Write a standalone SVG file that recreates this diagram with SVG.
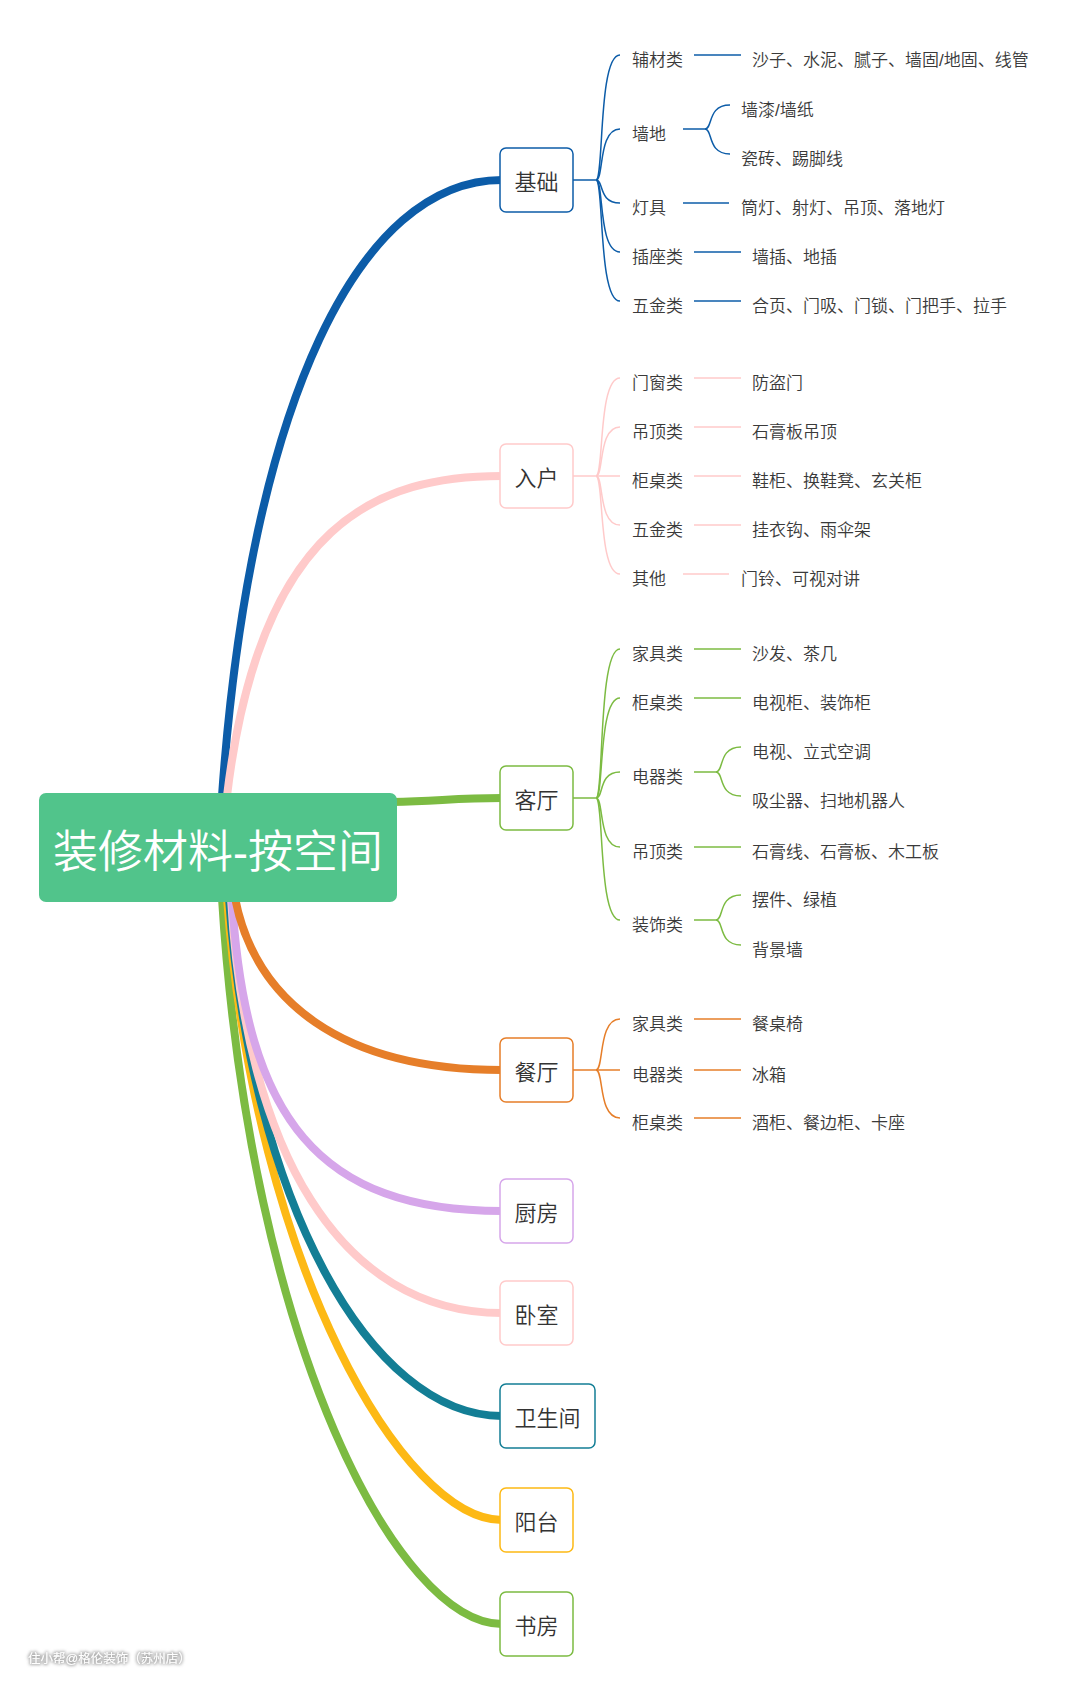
<svg xmlns="http://www.w3.org/2000/svg" width="1080" height="1696" viewBox="0 0 1080 1696">
<defs>
<style>
text{font-family:"Liberation Sans","Noto Sans CJK SC",sans-serif;}
.root{font-size:45px;fill:#ffffff;text-anchor:middle;font-weight:350;}
.l1{font-size:22px;fill:#333333;text-anchor:middle;font-weight:350;}
.t{font-size:17px;fill:#3a3a3a;font-weight:350;}
.box{fill:#ffffff;stroke-width:1.5;}
.thick{fill:none;stroke-width:8;stroke-linecap:butt;}
.thin{fill:none;stroke-width:1.5;}
.blue{stroke:#0c5ca8;}
.pink{stroke:#ffcaca;}
.green{stroke:#7cbb42;}
.orange{stroke:#e67e29;}
.lav{stroke:#d6a6ea;}
.teal{stroke:#137e95;}
.yellow{stroke:#fdb915;}
.wm{font-size:12.5px;fill:#ffffff;}
</style>
<filter id="wmshadow" x="-10%" y="-60%" width="120%" height="220%">
<feMorphology in="SourceAlpha" operator="dilate" radius="1" result="d"/>
<feGaussianBlur in="d" stdDeviation="1.5" result="b"/>
<feFlood flood-color="#8a8a8a" flood-opacity="0.7"/>
<feComposite in2="b" operator="in" result="s"/>
<feMerge><feMergeNode in="s"/><feMergeNode in="SourceGraphic"/></feMerge>
</filter>
</defs>
<rect x="0" y="0" width="1080" height="1696" fill="#ffffff"/>

<g id="connectors">
<!-- main branches -->
<path class="thick blue" d="M222,796 C250,400 360,180 502,180"/>
<path class="thick pink" d="M227,796 C260,520 380,476 502,476"/>
<path class="thick green" d="M392,802 C440,801 455,798 502,798"/>
<path class="thick green" d="M222,898 C250,1350 400,1624 502,1624"/>
<path class="thick yellow" d="M227,898 C255,1270 405,1520 502,1520"/>
<path class="thick teal" d="M229,898 C250,1200 370,1416 502,1416"/>
<path class="thick pink" d="M231,898 C245,1150 340,1313 502,1313"/>
<path class="thick lav" d="M232,898 C245,1120 320,1211 502,1211"/>
<path class="thick orange" d="M235,898 C255,1000 340,1070 502,1070"/>

<!-- 基础 -->
<g class="thin blue">
<path d="M573,180 H596 C604,180 598,55 620,55"/>
<path d="M596,180 C604,180 598,129 620,129"/>
<path d="M596,180 C604,180 598,203 620,203"/>
<path d="M596,180 C604,180 598,252 620,252"/>
<path d="M596,180 C604,180 598,301 620,301"/>
<path d="M694,55 H741"/>
<path d="M683,129 H705 C713,129 707,105 730,105"/>
<path d="M705,129 C713,129 707,154 730,154"/>
<path d="M683,203 H729"/>
<path d="M694,252 H741"/>
<path d="M694,301 H741"/>
</g>
<!-- 入户 -->
<g class="thin pink">
<path d="M573,476 H596 C604,476 598,378 620,378"/>
<path d="M596,476 C604,476 598,427 620,427"/>
<path d="M596,476 H620"/>
<path d="M596,476 C604,476 598,525 620,525"/>
<path d="M596,476 C604,476 598,574 620,574"/>
<path d="M694,378 H741"/>
<path d="M694,427 H741"/>
<path d="M694,476 H741"/>
<path d="M694,525 H741"/>
<path d="M683,574 H729"/>
</g>
<!-- 客厅 -->
<g class="thin green">
<path d="M573,798 H596 C604,798 598,649 620,649"/>
<path d="M596,798 C604,798 598,698 620,698"/>
<path d="M596,798 C604,798 598,772 620,772"/>
<path d="M596,798 C604,798 598,847 620,847"/>
<path d="M596,798 C604,798 598,920 620,920"/>
<path d="M694,649 H741"/>
<path d="M694,698 H741"/>
<path d="M694,772 H716 C724,772 718,747 741,747"/>
<path d="M716,772 C724,772 718,796 741,796"/>
<path d="M694,847 H741"/>
<path d="M694,920 H716 C724,920 718,895 741,895"/>
<path d="M716,920 C724,920 718,945 741,945"/>
</g>
<!-- 餐厅 -->
<g class="thin orange">
<path d="M573,1070 H596 C604,1070 598,1019 620,1019"/>
<path d="M596,1070 H620"/>
<path d="M596,1070 C604,1070 598,1118 620,1118"/>
<path d="M694,1019 H741"/>
<path d="M694,1070 H741"/>
<path d="M694,1118 H741"/>
</g>
</g>

<g id="root">
<rect x="39" y="793" width="358" height="109" rx="7" fill="#51c48b"/>
<text class="root" x="218" y="868">装修材料-按空间</text>
</g>

<!-- level 1 nodes -->
<g id="n-jichu"><rect class="box blue" x="500" y="148" width="73" height="64" rx="6"/><text class="l1" x="536.5" y="190">基础</text></g>
<g id="n-ruhu"><rect class="box pink" x="500" y="444" width="73" height="64" rx="6"/><text class="l1" x="536.5" y="486">入户</text></g>
<g id="n-keting"><rect class="box green" x="500" y="766" width="73" height="64" rx="6"/><text class="l1" x="536.5" y="808">客厅</text></g>
<g id="n-canting"><rect class="box orange" x="500" y="1038" width="73" height="64" rx="6"/><text class="l1" x="536.5" y="1080">餐厅</text></g>
<g id="n-chufang"><rect class="box lav" x="500" y="1179" width="73" height="64" rx="6"/><text class="l1" x="536.5" y="1221">厨房</text></g>
<g id="n-woshi"><rect class="box pink" x="500" y="1281" width="73" height="64" rx="6"/><text class="l1" x="536.5" y="1323">卧室</text></g>
<g id="n-weishengjian"><rect class="box teal" x="500" y="1384" width="95" height="64" rx="6"/><text class="l1" x="547.5" y="1426">卫生间</text></g>
<g id="n-yangtai"><rect class="box yellow" x="500" y="1488" width="73" height="64" rx="6"/><text class="l1" x="536.5" y="1530">阳台</text></g>
<g id="n-shufang"><rect class="box green" x="500" y="1592" width="73" height="64" rx="6"/><text class="l1" x="536.5" y="1634">书房</text></g>

<!-- 基础 children -->
<g id="n-jc-fucai"><text class="t" x="632" y="66">辅材类</text></g>
<g id="n-jc-fucai-1"><text class="t" x="752" y="66">沙子、水泥、腻子、墙固/地固、线管</text></g>
<g id="n-jc-qiangdi"><text class="t" x="632" y="140">墙地</text></g>
<g id="n-jc-qiangdi-1"><text class="t" x="741" y="116">墙漆/墙纸</text></g>
<g id="n-jc-qiangdi-2"><text class="t" x="741" y="165">瓷砖、踢脚线</text></g>
<g id="n-jc-dengju"><text class="t" x="632" y="214">灯具</text></g>
<g id="n-jc-dengju-1"><text class="t" x="741" y="214">筒灯、射灯、吊顶、落地灯</text></g>
<g id="n-jc-chazuo"><text class="t" x="632" y="263">插座类</text></g>
<g id="n-jc-chazuo-1"><text class="t" x="752" y="263">墙插、地插</text></g>
<g id="n-jc-wujin"><text class="t" x="632" y="312">五金类</text></g>
<g id="n-jc-wujin-1"><text class="t" x="752" y="312">合页、门吸、门锁、门把手、拉手</text></g>

<!-- 入户 children -->
<g id="n-rh-menchuang"><text class="t" x="632" y="389">门窗类</text></g>
<g id="n-rh-menchuang-1"><text class="t" x="752" y="389">防盗门</text></g>
<g id="n-rh-diaoding"><text class="t" x="632" y="438">吊顶类</text></g>
<g id="n-rh-diaoding-1"><text class="t" x="752" y="438">石膏板吊顶</text></g>
<g id="n-rh-guizhuo"><text class="t" x="632" y="487">柜桌类</text></g>
<g id="n-rh-guizhuo-1"><text class="t" x="752" y="487">鞋柜、换鞋凳、玄关柜</text></g>
<g id="n-rh-wujin"><text class="t" x="632" y="536">五金类</text></g>
<g id="n-rh-wujin-1"><text class="t" x="752" y="536">挂衣钩、雨伞架</text></g>
<g id="n-rh-qita"><text class="t" x="632" y="585">其他</text></g>
<g id="n-rh-qita-1"><text class="t" x="741" y="585">门铃、可视对讲</text></g>

<!-- 客厅 children -->
<g id="n-kt-jiaju"><text class="t" x="632" y="660">家具类</text></g>
<g id="n-kt-jiaju-1"><text class="t" x="752" y="660">沙发、茶几</text></g>
<g id="n-kt-guizhuo"><text class="t" x="632" y="709">柜桌类</text></g>
<g id="n-kt-guizhuo-1"><text class="t" x="752" y="709">电视柜、装饰柜</text></g>
<g id="n-kt-dianqi"><text class="t" x="632" y="783">电器类</text></g>
<g id="n-kt-dianqi-1"><text class="t" x="752" y="758">电视、立式空调</text></g>
<g id="n-kt-dianqi-2"><text class="t" x="752" y="807">吸尘器、扫地机器人</text></g>
<g id="n-kt-diaoding"><text class="t" x="632" y="858">吊顶类</text></g>
<g id="n-kt-diaoding-1"><text class="t" x="752" y="858">石膏线、石膏板、木工板</text></g>
<g id="n-kt-zhuangshi"><text class="t" x="632" y="931">装饰类</text></g>
<g id="n-kt-zhuangshi-1"><text class="t" x="752" y="906">摆件、绿植</text></g>
<g id="n-kt-zhuangshi-2"><text class="t" x="752" y="956">背景墙</text></g>

<!-- 餐厅 children -->
<g id="n-ct-jiaju"><text class="t" x="632" y="1030">家具类</text></g>
<g id="n-ct-jiaju-1"><text class="t" x="752" y="1030">餐桌椅</text></g>
<g id="n-ct-dianqi"><text class="t" x="632" y="1081">电器类</text></g>
<g id="n-ct-dianqi-1"><text class="t" x="752" y="1081">冰箱</text></g>
<g id="n-ct-guizhuo"><text class="t" x="632" y="1129">柜桌类</text></g>
<g id="n-ct-guizhuo-1"><text class="t" x="752" y="1129">酒柜、餐边柜、卡座</text></g>

<g id="watermark"><text class="wm" x="28" y="1663" filter="url(#wmshadow)">住小帮@格伦装饰（苏州店）</text></g>
</svg>
